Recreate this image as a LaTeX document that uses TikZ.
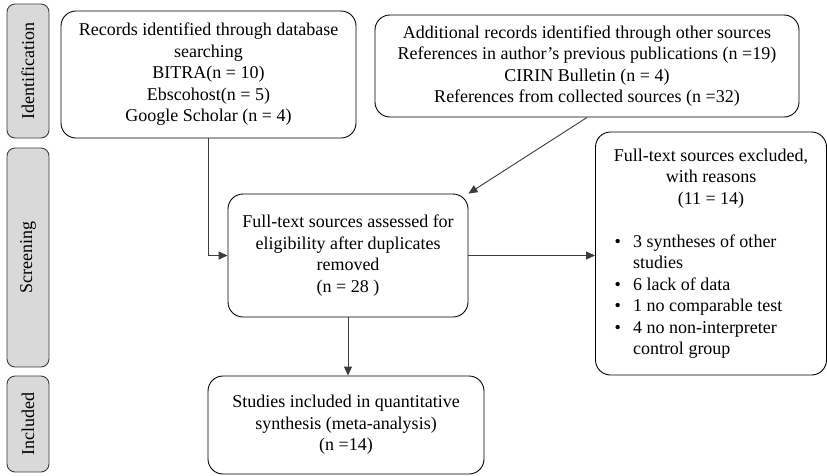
\documentclass[tikz,border=0pt]{standalone}
\usepackage{fontspec}
\setmainfont{Liberation Serif}
\usetikzlibrary{arrows.meta}
\definecolor{sidegray}{HTML}{D9D9D9}
\definecolor{linegray}{HTML}{3C3C3C}
\begin{document}
\begin{tikzpicture}[x=1pt, y=-1pt,
    every node/.style={font=\fontsize{18}{21.5}\selectfont},
    box/.style={draw=black, line width=0.9pt, rounded corners=15pt, inner sep=0pt, align=center},
    phase/.style={draw=linegray, fill=sidegray, line width=0.9pt, rounded corners=8pt, inner sep=0pt, minimum width=42pt},
    link/.style={draw=linegray, line width=0.9pt, -{Triangle[length=9pt, width=8pt]}}]
    \useasboundingbox (0,0) rectangle (827,475);

    \node[phase, minimum height=134pt] (ident) at (28,71) {};
    \node[rotate=90] at (ident) {Identification};
    \node[phase, minimum height=219pt] (screen) at (28,257.5) {};
    \node[rotate=90] at (screen) {Screening};
    \node[phase, minimum height=96pt] (incl) at (28,424) {};
    \node[rotate=90] at (incl) {Included};

    \node[box, minimum width=295pt, minimum height=127pt] (recs) at (208.5,74.5)
        {Records identified through database\\ searching\\ BITRA(n = 10)\\ Ebscohost(n = 5)\\ Google Scholar (n = 4)};
    \node[box, minimum width=424pt, minimum height=102pt] (other) at (587,66)
        {Additional records identified through other sources\\ References in author’s previous publications (n =19)\\ CIRIN Bulletin (n = 4)\\ References from collected sources (n =32)};
    \node[box, minimum width=240pt, minimum height=123pt] (full) at (348,255.5)
        {Full-text sources assessed for\\ eligibility after duplicates\\ removed\\ (n = 28 )};
    \node[box, minimum width=231pt, minimum height=243pt] (excl) at (711,253.5)
        {\begin{minipage}{204pt}\fontsize{18}{21.5}\selectfont
        \centering Full-text sources excluded,\\ with reasons\\ (11 = 14)\\[21.5pt]
        \raggedright
        \begin{list}{\textbullet}{\leftmargin=24pt \labelsep=12pt \itemsep=0pt \parsep=0pt \topsep=0pt}
        \item 3 syntheses of other studies
        \item 6 lack of data
        \item 1 no comparable test
        \item 4 no non-interpreter control group
        \end{list}
        \end{minipage}};
    \node[box, minimum width=276pt, minimum height=98pt] (incstud) at (346,425)
        {Studies included in quantitative\\ synthesis (meta-analysis)\\ (n =14)};

    \draw[link] (recs.south) |- (full.west);
    \draw[link] (other.south) -- (full.north east);
    \draw[link] (full.east) -- (full.east -| excl.west);
    \draw[link] (full.south) -- (full.south |- incstud.north);
\end{tikzpicture}
\end{document}
